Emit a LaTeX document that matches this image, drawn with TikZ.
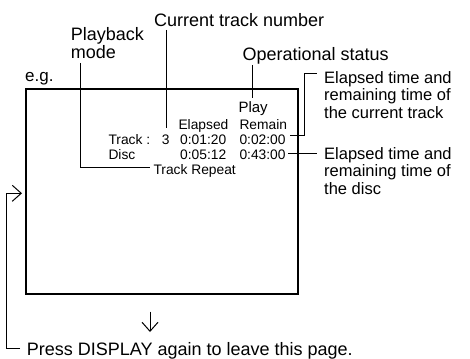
\documentclass[tikz,border=0pt]{standalone}
\usepackage{fontspec}
\setmainfont{Liberation Sans}
\usetikzlibrary{arrows.meta}
\tikzset{
  big/.style={anchor=base west,inner sep=0pt,font=\fontsize{18}{18}\selectfont},
  mid/.style={anchor=base west,inner sep=0pt,font=\fontsize{16.5}{16.5}\selectfont},
  small/.style={anchor=base west,inner sep=0pt,font=\fontsize{13.8}{13.8}\selectfont},
  leader/.style={line width=1pt},
  barb/.style={line width=1pt,-{Straight Barb[length=9pt,width=16pt,line width=1pt]}},
}
\begin{document}
\begin{tikzpicture}[x=1pt,y=-1pt]
\useasboundingbox (0,0) rectangle (470,358);
% screen
\draw[line width=2pt] (26,89.3) rectangle (298.3,294);
% top labels
\node[big] (ctn) at (154,26.7) {Current track number};
\node[big] (pb1) at (70.7,40.7) {Playback};
\node[big] (pb2) at (70.7,58.3) {mode};
\node[big,font=\fontsize{17}{17}\selectfont] (eg) at (25,81.7) {e.g.};
\node[big] (ops) at (242.3,61) {Operational status};
% right labels
\node[mid] (r1a) at (324,83.3) {Elapsed time and};
\node[mid] (r1b) at (324,101) {remaining time of};
\node[mid] (r1c) at (324,118.3) {the current track};
\node[mid] (r2a) at (324,159) {Elapsed time and};
\node[mid] (r2b) at (324,176.6) {remaining time of};
\node[mid] (r2c) at (324,194.5) {the disc};
% screen contents
\node[small,font=\fontsize{15}{15}\selectfont] (play) at (238.3,112.3) {Play};
\node[small] (hel) at (178.3,129) {Elapsed};
\node[small] (hrem) at (239.3,129) {Remain};
\node[small] (trk) at (108.3,144) {Track :};
\node[small] (tno) at (161.7,144) {3};
\node[small] (tel) at (180,144) {0:01:20};
\node[small] (trem) at (239.3,144) {0:02:00};
\node[small] (dsc) at (108.3,159) {Disc};
\node[small] (del) at (180,159) {0:05:12};
\node[small] (drem) at (239.3,159) {0:43:00};
\node[small] (trep) at (153.3,174) {Track Repeat};
% bottom
\node[big] (press) at (26.7,355) {Press DISPLAY again to leave this page.};
% leader coordinates
\coordinate (pbtop) at (80.7,63);
\coordinate (pbcorner) at (80.7,167);
\coordinate (pbend) at (150,167);
\coordinate (ctntop) at (166.5,30);
\coordinate (ctnend) at (166.5,128);
\coordinate (opstop) at (252.7,65);
\coordinate (opsend) at (252.7,98);
\coordinate (t1s) at (290,136);
\coordinate (t1c1) at (304,136);
\coordinate (t1c2) at (304,74);
\coordinate (t1e) at (317.3,74);
\coordinate (d1s) at (288,153.3);
\coordinate (d1e) at (317,153.3);
\coordinate (ls) at (20,348.3);
\coordinate (lc1) at (6.7,348.3);
\coordinate (lc2) at (6.7,193.3);
\coordinate (le) at (22,193.3);
\coordinate (ds) at (150,311.7);
\coordinate (de) at (150,332);
% leaders
\draw[leader] (pbtop) -- (pbcorner) -- (pbend);
\draw[leader] (ctntop) -- (ctnend);
\draw[leader] (opstop) -- (opsend);
\draw[leader] (t1s) -- (t1c1) -- (t1c2) -- (t1e);
\draw[leader] (d1s) -- (d1e);
\draw[barb] (ls) -- (lc1) -- (lc2) -- (le);
\draw[barb] (ds) -- (de);
\end{tikzpicture}
\end{document}
